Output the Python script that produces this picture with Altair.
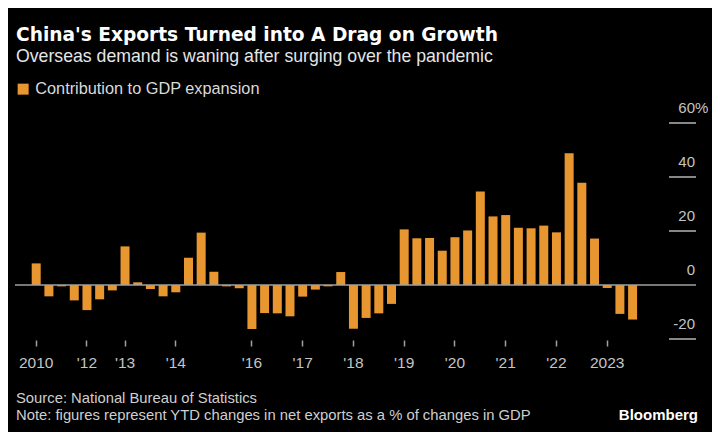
import json
import altair as alt
import pandas as pd

# ---------------- data ----------------
periods = [
    "2010Q4",
    "2011Q2", "2011Q3", "2011Q4",
    "2012Q2", "2012Q3", "2012Q4",
    "2013Q1", "2013Q2", "2013Q3", "2013Q4",
    "2014Q3", "2014Q4",
    "2015Q1", "2015Q2", "2015Q3", "2015Q4",
    "2016Q1", "2016Q2", "2016Q3", "2016Q4",
    "2017Q1", "2017Q2", "2017Q3", "2017Q4",
    "2018Q1", "2018Q2", "2018Q3", "2018Q4",
    "2019Q1", "2019Q2", "2019Q3", "2019Q4",
    "2020Q1", "2020Q2", "2020Q3", "2020Q4",
    "2021Q1", "2021Q2", "2021Q3", "2021Q4",
    "2022Q1", "2022Q2", "2022Q3", "2022Q4",
    "2023Q1", "2023Q2", "2023Q3",
]
values = [
    8.0, -4.2, -0.5, -5.7, -9.3, -5.3, -2.0, 14.3, 1.0, -1.5,
    -4.2, -2.7, 10.1, 19.4, 4.9, -0.5, -1.2, -16.3, -10.4, -10.5,
    -11.6, -4.3, -1.7, -0.5, 4.8, -16.2, -12.2, -10.5, -7.0, 20.6,
    17.3, 17.4, 12.7, 17.7, 20.2, 34.6, 25.4, 25.9, 21.2, 21.0,
    22.0, 19.5, 48.8, 37.9, 17.2, -1.1, -10.7, -12.8,
]
series_name = "Contribution to GDP expansion"

x_tick_periods = ["2010Q4", "2012Q2", "2013Q1", "2014Q3", "2016Q1", "2017Q1",
                  "2018Q1", "2019Q1", "2020Q1", "2021Q1", "2022Q1", "2023Q1"]
x_tick_labels = ["2010", "'12", "'13", "'14", "'16", "'17",
                 "'18", "'19", "'20", "'21", "'22", "2023"]

y_tick_values = [60, 40, 20, 0, -20]
y_tick_labels = ["60", "40", "20", "0", "-20"]
y_domain = [-20, 60]

title_text = "China's Exports Turned into A Drag on Growth"
subtitle_text = "Overseas demand is waning after surging over the pandemic"
source_text = "Source: National Bureau of Statistics"
note_text = "Note: figures represent YTD changes in net exports as a % of changes in GDP"
brand_text = "Bloomberg"

# ---------------- style ----------------
W, H = 681, 216
ORANGE = "#E8962F"
LINE = "#A0A0A0"
FONT = "Liberation Sans"

df = pd.DataFrame({"period": periods, "value": values, "series": series_name})

label_map = json.dumps(dict(zip(x_tick_periods, x_tick_labels)))

yscale = alt.Scale(domain=y_domain, nice=False, zero=False)

bars = alt.Chart(df).mark_bar(size=9).encode(
    x=alt.X(
        "period:N",
        scale=alt.Scale(domain=periods, range=[16.7, 622.1],
                        paddingInner=0.29, paddingOuter=0, round=False),
        axis=alt.Axis(
            values=x_tick_periods,
            labelExpr=f"{label_map}[datum.value]",
            title=None, domain=False, grid=False,
            ticks=True, tickSize=6, tickColor=LINE, tickWidth=1.5,
            offset=1, labelAngle=0, bandPosition=0.5,
            labelFont=FONT, labelFontSize=15.5, labelColor="#C4C4C4",
            labelBaseline="alphabetic", labelPadding=21,
        ),
    ),
    y=alt.Y("value:Q", scale=yscale, axis=None),
    color=alt.Color(
        "series:N",
        scale=alt.Scale(range=[ORANGE]),
        legend=alt.Legend(
            orient="none", legendX=0, legendY=-42, title=None,
            symbolType="square", symbolSize=121, symbolStrokeWidth=0,
            labelFont=FONT, labelFontSize=16.3, labelColor="#DADADA",
            labelOffset=4, padding=0, labelLimit=0,
        ),
    ),
)

zero_df = pd.DataFrame({"v": [0]})
zero_line = alt.Chart(zero_df).mark_rule(color=LINE, strokeWidth=1.5).encode(
    y=alt.Y("v:Q", scale=yscale, axis=None)
)

tick_df = pd.DataFrame({"v": [v for v in y_tick_values if v != 0]})
tick_lines = alt.Chart(tick_df).mark_rule(color=LINE, strokeWidth=1.7).encode(
    y=alt.Y("v:Q", scale=yscale, axis=None),
    x=alt.value(W - 27),
    x2=alt.value(W),
)

ylab_df = pd.DataFrame({"v": y_tick_values, "lab": y_tick_labels})
y_labels = alt.Chart(ylab_df).mark_text(
    align="right", baseline="alphabetic", dy=-10,
    font=FONT, fontSize=15, color="#C4C4C4",
).encode(
    y=alt.Y("v:Q", scale=yscale, axis=None),
    x=alt.value(W - 1),
    text="lab:N",
)
pct_df = pd.DataFrame({"v": [y_tick_values[0]], "lab": ["%"]})
pct_label = alt.Chart(pct_df).mark_text(
    align="left", baseline="alphabetic", dy=-10,
    font=FONT, fontSize=15, color="#C4C4C4",
).encode(
    y=alt.Y("v:Q", scale=yscale, axis=None),
    x=alt.value(W - 1),
    text="lab:N",
)


def note(text, x, y, size, color, weight="normal", align="left", font=FONT):
    return alt.Chart(pd.DataFrame({"t": [text]})).mark_text(
        align=align, baseline="alphabetic", font=font, fontSize=size,
        fontWeight=weight, color=color,
    ).encode(text="t:N", x=alt.value(x), y=alt.value(y))


title = note(title_text, 1, -82, 18.6, "#FFFFFF", weight="bold", font="DejaVu Sans")
subtitle = note(subtitle_text, 1, -61.5, 17.7, "#E6E6E6")
source = note(source_text, 1, 280, 14.8, "#CFCFCF")
footnote = note(note_text, 1, 296.8, 14.8, "#CFCFCF")
brand = note(brand_text, W + 2, 297, 15, "#FFFFFF", weight="bold", align="right")

chart = alt.layer(
    bars, zero_line, tick_lines, y_labels, pct_label,
    title, subtitle, source, footnote, brand,
).properties(
    width=W, height=H,
    autosize=alt.AutoSizeParams(type="none"),
    padding={"left": 7, "top": 115, "right": 16, "bottom": 93},
    background="#000000",
).configure_view(strokeWidth=0)

chart.save("out.html", embed_options={"renderer": "svg", "actions": False})
